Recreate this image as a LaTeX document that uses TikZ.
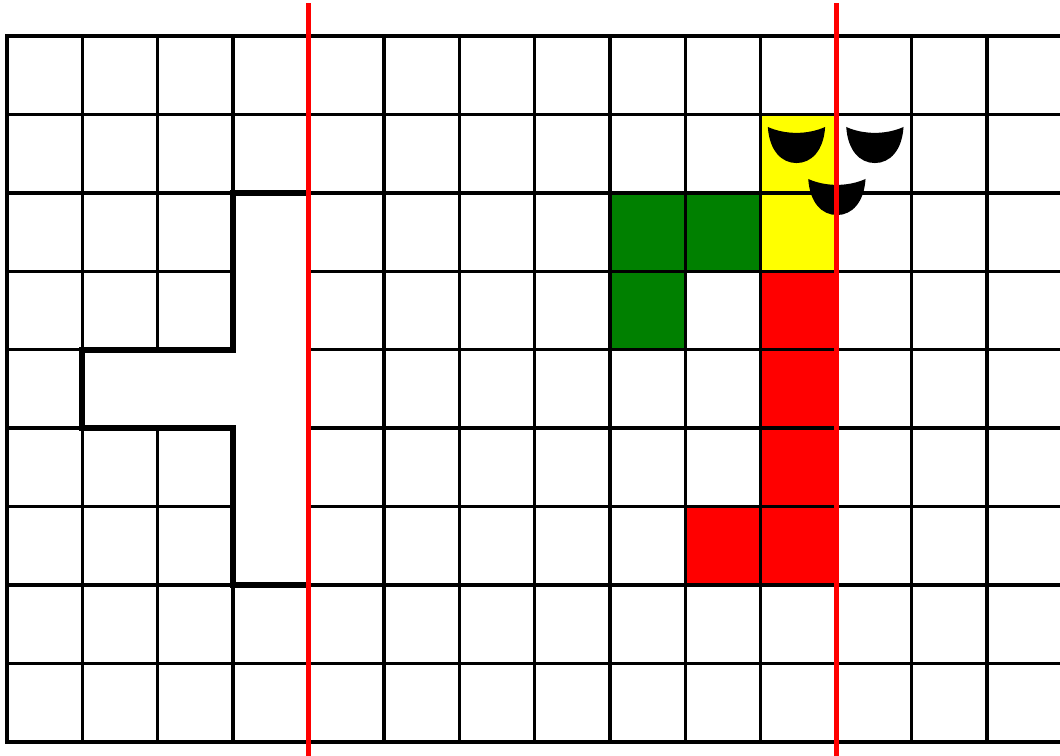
\documentclass[tikz,border=0pt]{standalone}
\usepackage{xcolor}
\usetikzlibrary{positioning}
\definecolor{cellGreen}{HTML}{008000}
\definecolor{cellYellow}{HTML}{FFFF00}
\definecolor{cellRed}{HTML}{FF0000}
\definecolor{cutRed}{HTML}{FF0000}

\begin{document}
\begin{tikzpicture}[
          x=1.5077cm, y=1.5689cm,
          gridline/.style={black,line width=1.9pt,line cap=rect},
          wall/.style={black,line width=3.4pt,line cap=rect,line join=miter},
          cut/.style={cutRed,line width=2.8pt},
          mask/.pic={
            \fill[black] (-0.38,0) .. controls (-0.15,-0.1) and (0.15,-0.1) .. (0.38,0)
                 .. controls (0.36,-0.3) and (0.2,-0.46) .. (0,-0.46)
                 .. controls (-0.2,-0.46) and (-0.36,-0.3) .. (-0.38,0) -- cycle;
          }]
        \useasboundingbox (-0.093,-0.178) rectangle (13.97,9.459);
        \clip (-0.093,-0.178) rectangle (13.97,9.459);
        % coloured cells
        \fill[cellGreen] (8,6) rectangle (10,7);
        \fill[cellGreen] (8,5) rectangle (9,6);
        \fill[cellYellow] (10,6) rectangle (11,8);
        \fill[cellRed] (10,2) rectangle (11,6);
        \fill[cellRed] (9,2) rectangle (10,3);
        % grid
        \foreach \i in {0,...,9}
          \draw[gridline] (0,\i) -- (14.5,\i);
        \foreach \j in {0,...,13}
          \draw[gridline] (\j,0) -- (\j,9);
        % open region on the left
        \fill[white] (3,7) -- (4,7) -- (4,2) -- (3,2) -- (3,4) -- (1,4) -- (1,5) -- (3,5) -- cycle;
        \draw[wall] (4,7) -- (3,7) -- (3,5) -- (1,5) -- (1,4) -- (3,4) -- (3,2) -- (4,2);
        % masks
        \pic at (10.474,7.84) {mask};
        \pic at (11.514,7.84) {mask};
        \pic at (11.01,7.177) {mask};
        % cut lines
        \draw[cut] (4,9.42) -- (4,-0.3);
        \draw[cut] (11,9.42) -- (11,-0.3);
      \end{tikzpicture}
\end{document}
